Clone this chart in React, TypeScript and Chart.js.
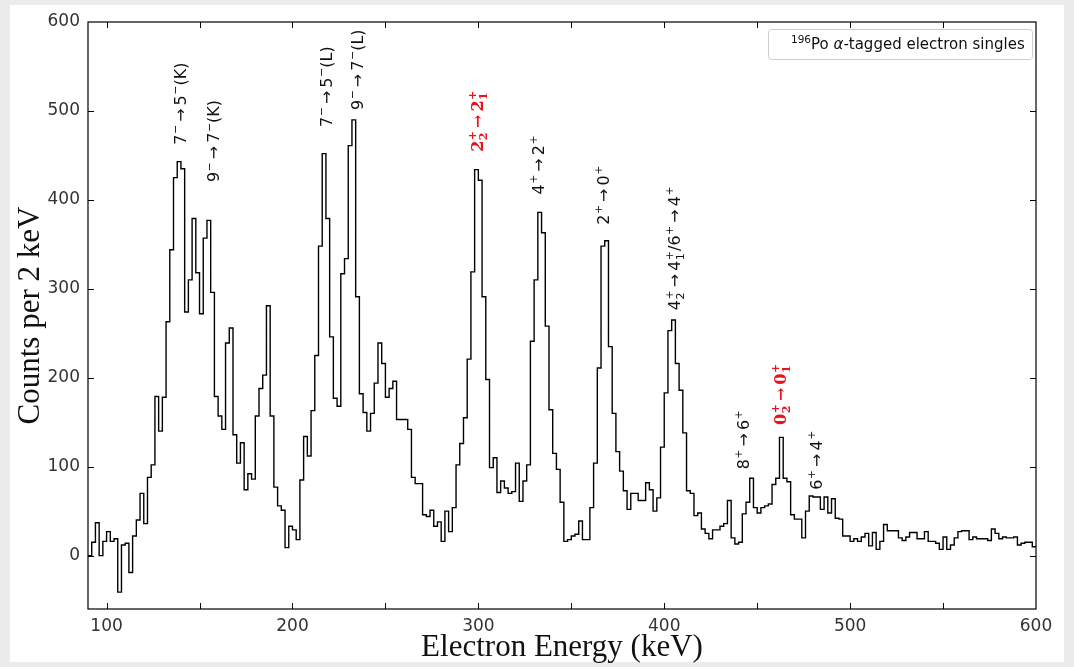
import React, { useEffect, useRef } from "react";
import { Chart, registerables } from "chart.js";

Chart.register(...registerables);

// Histogram binning (left edge of first bin and bin width, keV)
const BIN_START_KEV = 90;
const BIN_WIDTH_KEV = 2;

// Counts per 2 keV bin
const counts90to188 = [
  0, 15, 37, 0, 16, 27, 16, 19, -41, 12,
  14, -19, 22, 40, 70, 36, 88, 102, 179, 140,
  178, 263, 344, 425, 443, 435, 274, 310, 379, 318,
  272, 357, 377, 296, 179, 157, 142, 239, 256, 136,
  104, 127, 74, 92, 86, 157, 188, 203, 281, 157,
];
const counts190to388 = [
  77, 56, 51, 9, 33, 29, 18, 85, 134, 112,
  163, 225, 348, 452, 379, 246, 177, 168, 317, 334,
  461, 490, 291, 182, 161, 140, 160, 194, 239, 216,
  178, 188, 196, 153, 153, 153, 142, 88, 81, 81,
  46, 44, 51, 33, 38, 16, 50, 27, 54, 102,
  126, 155, 221, 319, 434, 422, 291, 198, 99, 110,
  71, 84, 76, 70, 72, 104, 61, 84, 102, 241,
  310, 386, 363, 258, 164, 115, 97, 60, 16, 18,
  22, 24, 39, 18, 18, 54, 104, 211, 348, 354,
  235, 160, 117, 95, 73, 52, 70, 70, 62, 62,
];
const counts390to598 = [
  82, 74, 50, 65, 122, 183, 253, 265, 216, 186,
  138, 73, 70, 45, 48, 30, 25, 19, 29, 29,
  33, 36, 62, 20, 13, 15, 47, 60, 87, 54,
  48, 54, 56, 58, 80, 87, 133, 87, 83, 46,
  41, 41, 20, 50, 67, 66, 66, 52, 66, 48,
  64, 42, 41, 22, 22, 16, 19, 16, 21, 25,
  11, 26, 7, 16, 35, 28, 28, 28, 20, 17,
  21, 26, 26, 19, 19, 27, 16, 16, 14, 7,
  21, 7, 12, 20, 27, 28, 28, 18, 21, 19,
  19, 19, 17, 30, 25, 19, 21, 20, 20, 21,
  12, 14, 15, 15, 10,
];

const X_MIN = 90;
const X_MAX = 600;
const Y_MIN = -60;
const Y_MAX = 600;
const xMajorTicks = [100, 200, 300, 400, 500, 600];
const xMinorTicks = [150, 250, 350, 450, 550];
const yMajorTicks = [0, 100, 200, 300, 400, 500, 600];

const xTitle = "Electron Energy (keV)";
const yTitle = "Counts per 2 keV";

type Part = { t?: string; sup?: string; sub?: string; arrow?: boolean };
type Note = { energy: number; count: number; parts: Part[]; red?: boolean };

const M = "\u2212";
const annotations: Note[] = [
  { energy: 139.5, count: 462, parts: [{ t: "7", sup: M }, { arrow: true }, { t: "5", sup: M }, { t: "(K)" }] },
  { energy: 157.5, count: 420, parts: [{ t: "9", sup: M }, { arrow: true }, { t: "7", sup: M }, { t: "(K)" }] },
  { energy: 218.0, count: 482, parts: [{ t: "7", sup: M }, { arrow: true }, { t: "5", sup: M }, { t: "(L)" }] },
  { energy: 234.8, count: 501, parts: [{ t: "9", sup: M }, { arrow: true }, { t: "7", sup: M }, { t: "(L)" }] },
  { energy: 299.4, count: 454, red: true, parts: [{ t: "2", sup: "+", sub: "2" }, { arrow: true }, { t: "2", sup: "+", sub: "1" }] },
  { energy: 332.2, count: 406, parts: [{ t: "4", sup: "+" }, { arrow: true }, { t: "2", sup: "+" }] },
  { energy: 367.2, count: 372, parts: [{ t: "2", sup: "+" }, { arrow: true }, { t: "0", sup: "+" }] },
  { energy: 405.4, count: 276, parts: [{ t: "4", sup: "+", sub: "2" }, { arrow: true }, { t: "4", sup: "+", sub: "1" }, { t: "/6", sup: "+" }, { arrow: true }, { t: "4", sup: "+" }] },
  { energy: 442.5, count: 97, parts: [{ t: "8", sup: "+" }, { arrow: true }, { t: "6", sup: "+" }] },
  { energy: 462.4, count: 147, red: true, parts: [{ t: "0", sup: "+", sub: "2" }, { arrow: true }, { t: "0", sup: "+", sub: "1" }] },
  { energy: 481.8, count: 74, parts: [{ t: "6", sup: "+" }, { arrow: true }, { t: "4", sup: "+" }] },
];

function drawRich(ctx: CanvasRenderingContext2D, parts: Part[], size: number, family: string, weight: string) {
  const base = `${weight} ${size}px ${family}`;
  const small = `${weight} ${Math.round(size * 0.7)}px ${family}`;
  let x = 0;
  for (const p of parts) {
    if (p.arrow) {
      ctx.font = base;
      x += 3;
      ctx.fillText("\u2192", x, 0);
      x += ctx.measureText("\u2192").width + 3;
      continue;
    }
    if (p.t) {
      ctx.font = base;
      ctx.fillText(p.t, x, 0);
      x += ctx.measureText(p.t).width;
    }
    let w = 0;
    ctx.font = small;
    if (p.sup) {
      ctx.fillText(p.sup, x + 0.5, -size * 0.42);
      w = Math.max(w, ctx.measureText(p.sup).width + 0.5);
    }
    if (p.sub) {
      ctx.fillText(p.sub, x + 0.5, size * 0.22);
      w = Math.max(w, ctx.measureText(p.sub).width + 0.5);
    }
    x += w;
  }
}

export default function App() {
  const ref = useRef<HTMLCanvasElement>(null);

  useEffect(() => {
    const canvas = ref.current;
    if (!canvas) return;
    const counts = [...counts90to188, ...counts190to388, ...counts390to598];
    const points = counts.map((c, i) => ({ x: BIN_START_KEV + i * BIN_WIDTH_KEV, y: c }));
    points.push({ x: BIN_START_KEV + counts.length * BIN_WIDTH_KEV, y: counts[counts.length - 1] });

    const decor = {
      id: "decor",
      beforeDraw(chart: any) {
        const ctx = chart.ctx as CanvasRenderingContext2D;
        ctx.save();
        ctx.fillStyle = "#ececec";
        ctx.fillRect(0, 0, chart.width, chart.height);
        ctx.fillStyle = "#ffffff";
        ctx.fillRect(10, 5, 1054, 657);
        ctx.restore();
      },
      afterDatasetsDraw(chart: any) {
        const ctx = chart.ctx as CanvasRenderingContext2D;
        const xs = chart.scales.x;
        const ys = chart.scales.y;
        const { left, right, top, bottom } = chart.chartArea;
        ctx.save();
        // frame
        ctx.strokeStyle = "#000";
        ctx.lineWidth = 1.2;
        ctx.strokeRect(left, top, right - left, bottom - top);
        // inward ticks
        ctx.lineWidth = 1;
        const tl = 6;
        ctx.beginPath();
        for (const v of [...xMajorTicks, ...xMinorTicks]) {
          const px = Math.round(xs.getPixelForValue(v)) + 0.5;
          if (px <= left + 1 || px >= right - 1) continue;
          ctx.moveTo(px, bottom); ctx.lineTo(px, bottom - tl);
          ctx.moveTo(px, top); ctx.lineTo(px, top + tl);
        }
        for (const v of yMajorTicks) {
          const py = Math.round(ys.getPixelForValue(v)) + 0.5;
          if (py <= top + 1 || py >= bottom - 1) continue;
          ctx.moveTo(left, py); ctx.lineTo(left + tl, py);
          ctx.moveTo(right, py); ctx.lineTo(right - tl, py);
        }
        ctx.stroke();

        // annotations
        for (const a of annotations) {
          const px = xs.getPixelForValue(a.energy);
          const py = ys.getPixelForValue(a.count);
          const size = 16;
          ctx.save();
          ctx.translate(px, py);
          ctx.rotate(-Math.PI / 2);
          ctx.translate(0, size * 0.36);
          ctx.textBaseline = "alphabetic";
          ctx.textAlign = "left";
          ctx.fillStyle = a.red ? "#e8141b" : "#111";
          if (a.red) drawRich(ctx, a.parts, size, "'DejaVu Serif'", "bold");
          else drawRich(ctx, a.parts, size, "'DejaVu Sans'", "normal");
          ctx.restore();
        }

        // legend
        const lx = 768, ly = 29, lw = 264, lh = 30;
        ctx.fillStyle = "rgba(255,255,255,0.85)";
        ctx.strokeStyle = "#cccccc";
        ctx.lineWidth = 1;
        ctx.beginPath();
        ctx.roundRect(lx + 0.5, ly + 0.5, lw, lh, 3);
        ctx.fill();
        ctx.stroke();
        ctx.fillStyle = "#111";
        ctx.textBaseline = "alphabetic";
        ctx.textAlign = "left";
        let tx = 791;
        const base = 49;
        ctx.font = "10.5px 'DejaVu Sans'";
        ctx.fillText("196", tx, base - 6);
        tx += ctx.measureText("196").width;
        ctx.font = "15px 'DejaVu Sans'";
        ctx.fillText("Po ", tx, base);
        tx += ctx.measureText("Po ").width;
        ctx.font = "italic 15px 'DejaVu Sans'";
        ctx.fillText("\u03b1", tx, base);
        tx += ctx.measureText("\u03b1").width;
        ctx.font = "15px 'DejaVu Sans'";
        ctx.fillText("-tagged electron singles", tx, base);
        ctx.restore();
      },
    };

    const chart = new Chart(canvas, {
      type: "line",
      data: {
        datasets: [
          {
            data: points,
            borderColor: "#000",
            borderWidth: 1.4,
            pointRadius: 0,
            stepped: true,
            fill: false,
          },
        ],
      },
      options: {
        animation: false,
        responsive: false,
        devicePixelRatio: 1,
        layout: { padding: { left: 0, right: 38, top: 22, bottom: 0 } },
        plugins: { legend: { display: false }, tooltip: { enabled: false } },
        scales: {
          x: {
            type: "linear",
            min: X_MIN,
            max: X_MAX,
            afterBuildTicks: (s: any) => {
              s.ticks = xMajorTicks.map((v) => ({ value: v }));
            },
            afterFit: (s: any) => {
              s.height = 58;
            },
            grid: { display: false, drawTicks: false },
            border: { display: false },
            ticks: {
              font: { family: "'DejaVu Sans'", size: 17 },
              color: "#333",
              padding: 7,
              maxRotation: 0,
              autoSkip: false,
              callback: (v: any) => String(v),
            },
            title: {
              display: true,
              text: xTitle,
              font: { family: "'Liberation Serif'", size: 31 },
              color: "#111",
              padding: { top: 0, bottom: 1 },
            },
          },
          y: {
            type: "linear",
            min: Y_MIN,
            max: Y_MAX,
            afterBuildTicks: (s: any) => {
              s.ticks = yMajorTicks.map((v) => ({ value: v }));
            },
            afterFit: (s: any) => {
              s.width = 88;
            },
            grid: { display: false, drawTicks: false },
            border: { display: false },
            ticks: {
              font: { family: "'DejaVu Sans'", size: 17 },
              color: "#333",
              padding: 8,
              autoSkip: false,
              callback: (v: any) => String(v),
            },
            title: {
              display: true,
              text: yTitle,
              font: { family: "'Liberation Serif'", size: 31 },
              color: "#111",
              padding: { top: 12, bottom: 0 },
            },
          },
        },
      },
      plugins: [decor],
    });
    return () => chart.destroy();
  }, []);

  return (
    <canvas
      ref={ref}
      width={1074}
      height={667}
      style={{ position: "fixed", left: 0, top: 0, width: 1074, height: 667, display: "block" }}
    />
  );
}
